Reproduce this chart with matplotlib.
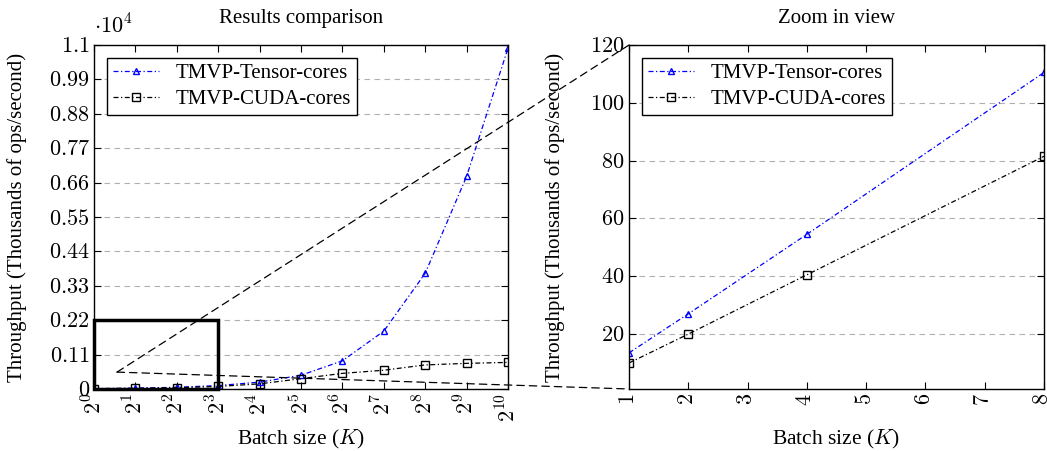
import matplotlib
matplotlib.use("Agg")
import matplotlib.pyplot as plt
from matplotlib.patches import Rectangle, ConnectionPatch

# шрифты в стиле LaTeX: текст Times, цифры Computer Modern
plt.rcParams['font.family'] = ['Liberation Serif', 'DejaVu Serif']
plt.rcParams['mathtext.fontset'] = 'cm'
plt.rcParams['font.size'] = 15

# данные
batch = [1, 2, 4, 8, 16, 32, 64, 128, 256, 512, 1024]
tensor = [13.5, 27, 54.5, 110.5, 220, 440, 900, 1850, 3700, 6800, 10900]
cuda = [10, 20, 40.5, 81.5, 165, 330, 500, 600, 770, 820, 850]

zoom_batch = [1, 2, 4, 8]
zoom_tensor = [13.5, 27, 54.5, 110.5]
zoom_cuda = [10, 20, 40.5, 81.5]

left_yticks = [0, 1100, 2200, 3300, 4400, 5500, 6600, 7700, 8800, 9900, 11000]
left_ylabels = ['0', '0.11', '0.22', '0.33', '0.44', '0.55', '0.66', '0.77', '0.88', '0.99', '1.1']
left_xlabels = ['2^{%d}' % i for i in range(11)]
right_yticks = [20, 40, 60, 80, 100, 120]
right_xticks = [1, 2, 3, 4, 5, 6, 7, 8]

dashdot = (0, (4, 2, 1, 2))
ylab = 'Throughput (Thousands of ops/second)'


def math(labels):
    return ['$%s$' % s for s in labels]


fig = plt.figure(figsize=(10.47, 4.51), dpi=100)
ax1 = fig.add_axes([94/1047, 1 - 389/451, 414/1047, 344/451])
ax2 = fig.add_axes([629/1047, 1 - 389/451, 415/1047, 344/451])

for ax in (ax1, ax2):
    ax.grid(axis='y', color='#b0b0b0', linestyle=(0, (5, 4)), linewidth=0.8)
    ax.set_axisbelow(True)
    ax.tick_params(direction='in', top=True, right=True, length=5, width=0.8,
                   labelsize=16, pad=3)
    for s in ax.spines.values():
        s.set_linewidth(1.0)
    ax.set_ylabel(ylab, fontsize=15)
    ax.set_xlabel('Batch size ($K$)', fontsize=15.5)

ax1.yaxis.set_label_coords(-0.162, 0.5)
ax2.yaxis.set_label_coords(-0.154, 0.5)
ax1.xaxis.set_label_coords(0.5, -0.113)
ax2.xaxis.set_label_coords(0.5, -0.113)

# левый график
ax1.plot(batch, tensor, color='blue', linestyle=dashdot, linewidth=0.9,
         marker='^', markersize=4.5, markerfacecolor='none', label='TMVP-Tensor-cores')
ax1.plot(batch, cuda, color='black', linestyle=dashdot, linewidth=0.9,
         marker='s', markersize=5.5, markerfacecolor='none', label='TMVP-CUDA-cores')
ax1.set_xscale('log', base=2)
ax1.set_xlim(1, 1024)
ax1.set_xticks(batch)
ax1.set_xticklabels(math(left_xlabels), rotation=90)
ax1.xaxis.set_minor_locator(matplotlib.ticker.NullLocator())
ax1.set_ylim(0, 11000)
ax1.set_yticks(left_yticks)
ax1.set_yticklabels(math(left_ylabels))
ax1.set_title('Results comparison', fontsize=15, pad=16)
ax1.text(0.0, 1.02, r'$\cdot 10^{4}$', transform=ax1.transAxes, fontsize=16, va='bottom')
ax1.legend(loc='upper left', fancybox=False, edgecolor='black', framealpha=1, fontsize=15,
           borderaxespad=0.6, handlelength=2.2, labelspacing=0.3, borderpad=0.3)

# прямоугольник увеличения
ax1.add_patch(Rectangle((1, 0), 7, 2200, fill=False, edgecolor='black',
                        linewidth=2.5, clip_on=False, zorder=5))

# правый график
ax2.plot(zoom_batch, zoom_tensor, color='blue', linestyle=dashdot, linewidth=0.9,
         marker='^', markersize=4.5, markerfacecolor='none', label='TMVP-Tensor-cores')
ax2.plot(zoom_batch, zoom_cuda, color='black', linestyle=dashdot, linewidth=0.9,
         marker='s', markersize=5.5, markerfacecolor='none', label='TMVP-CUDA-cores')
ax2.set_xlim(1, 8)
ax2.set_xticks(right_xticks)
ax2.set_xticklabels(math([str(i) for i in right_xticks]), rotation=90)
ax2.set_ylim(1, 120)
ax2.set_yticks(right_yticks)
ax2.set_yticklabels(math([str(i) for i in right_yticks]))
ax2.set_title('Zoom in view', fontsize=15, pad=16)
ax2.legend(loc='upper left', fancybox=False, edgecolor='black', framealpha=1, fontsize=15,
           borderaxespad=0.6, handlelength=2.2, labelspacing=0.3, borderpad=0.3)

# соединительные линии
for corner in [(0, 1), (0, 0)]:
    con = ConnectionPatch(xyA=(1.47, 540), coordsA=ax1.transData,
                          xyB=corner, coordsB=ax2.transAxes,
                          color='black', linestyle=(0, (6, 4)), linewidth=0.9)
    fig.add_artist(con)

fig.savefig('out.png', dpi=100)
